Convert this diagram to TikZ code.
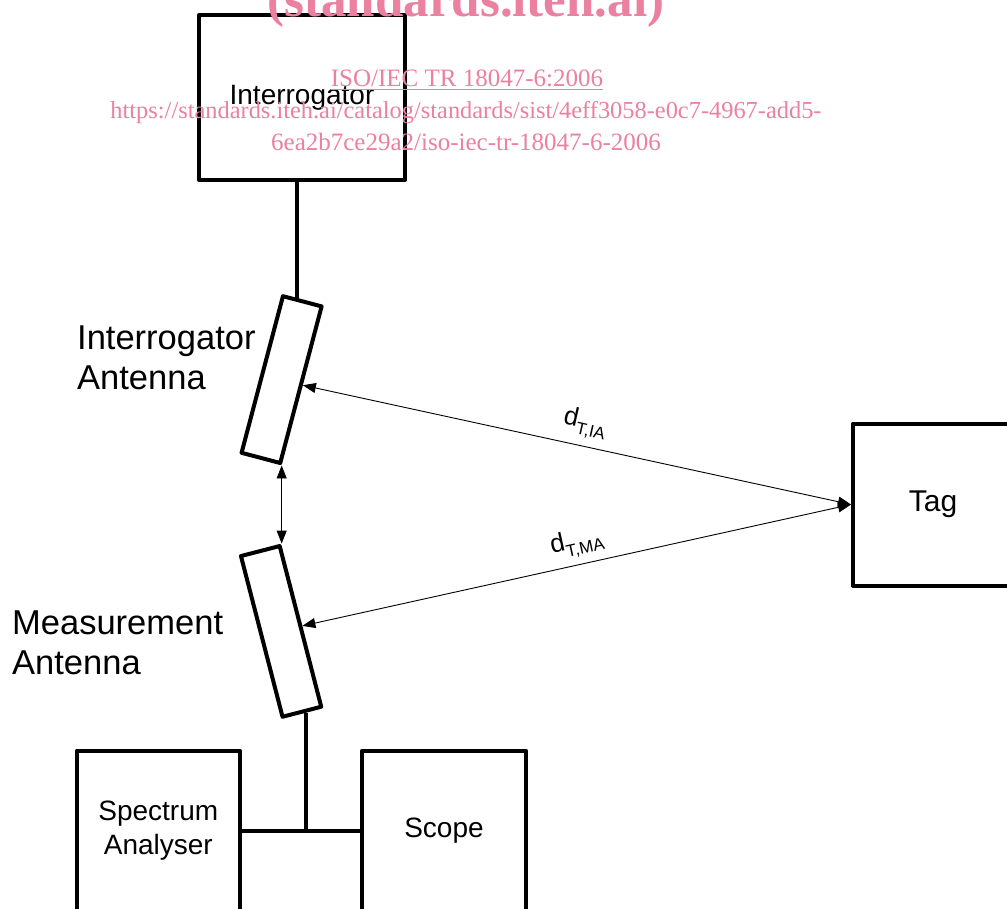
\documentclass[tikz,border=0pt]{standalone}
\usepackage{fontspec}
\setmainfont{Liberation Sans}
\newfontfamily\wmfont{Liberation Serif}
\usetikzlibrary{arrows.meta,calc}
\definecolor{wmpink}{RGB}{236,128,160}
\begin{document}
\begin{tikzpicture}[x=1pt,y=-1pt,
  blk/.style={draw,line width=4pt,line join=round,inner sep=0pt,font=\fontsize{28}{34}\selectfont,align=center},
  ant/.style={draw,line width=4pt,line join=round,inner sep=0pt,minimum width=40pt,minimum height=162pt},
  wire/.style={line width=4pt},
  dbl/.style={line width=0.9pt,{Triangle[length=13pt,width=10pt]}-{Triangle[length=13pt,width=10pt]}},
  lbl/.style={font=\fontsize{34.5}{40}\selectfont,align=left,anchor=west,inner sep=0pt},
  dlbl/.style={font=\fontsize{26}{30}\selectfont,inner sep=0pt},
  wm/.style={text=wmpink,inner sep=0pt,anchor=base}
]
\useasboundingbox (0,0) rectangle (1007,909);
\clip (0,0) rectangle (1007,909);
\fill[white] (0,0) rectangle (1007,909);
% blocks
\node[blk,minimum width=206pt,minimum height=165pt] (intg) at (302,97.5) {Interrogator};
\node[blk,minimum width=160pt,minimum height=162pt,font=\fontsize{30}{34}\selectfont] (tag) at (933,504.5) {Tag};
\node[blk,minimum width=163pt,minimum height=160pt] (spec) at (158.3,830.7) {Spectrum\\Analyser};
\node[blk,minimum width=164pt,minimum height=160pt] (scope) at (444,830.7) {Scope};
% antennas
\node[ant,rotate=-14.8] (ia) at (281.6,379.6) {};
\node[ant,rotate=14.5,minimum height=166pt] (ma) at (281.1,631.4) {};
% labels
\node[lbl] (ialbl) at (77,358) {Interrogator\\Antenna};
\node[lbl] (malbl) at (12,643) {Measurement\\Antenna};
% wires
\coordinate (iatop) at ($(ia.north west)!0.37!(ia.north east)$);
\draw[wire] (iatop) -- (iatop |- intg.south);
\coordinate (mabot) at ($(ma.south west)!0.58!(ma.south east)$);
\coordinate (junc) at (mabot |- spec.east);
\draw[wire] (mabot) -- (junc);
\draw[wire] (spec.east) -- (scope.west);
% distance arrows
\draw[dbl] (ia.south east) -- (ia.south east |- ma.north east);
\draw[dbl] (ia.east) -- (tag.west);
\draw[dbl] (ma.east) -- (tag.west);
\node[dlbl,rotate=-12.7] (dia) at (585,424) {d\raisebox{-7pt}{\fontsize{17}{17}\selectfont T,IA}};
\node[dlbl,rotate=12.6] (dma) at (577,543) {d\raisebox{-7pt}{\fontsize{17}{17}\selectfont T,MA}};
% watermark
\node[wm,font=\wmfont\bfseries\fontsize{51}{51}\selectfont] (wm1) at (466,17) {(standards.iteh.ai)};
\node[wm,font=\wmfont\fontsize{25}{25}\selectfont] (wm2) at (467,87) {\underline{ISO/IEC TR 18047-6:2006}};
\node[wm,font=\wmfont\fontsize{24.4}{25}\selectfont] (wm3) at (466,119) {https://standards.iteh.ai/catalog/standards/sist/4eff3058-e0c7-4967-add5-};
\node[wm,font=\wmfont\fontsize{25}{25}\selectfont] (wm4) at (466,151) {6ea2b7ce29a2/iso-iec-tr-18047-6-2006};
\end{tikzpicture}
\end{document}
